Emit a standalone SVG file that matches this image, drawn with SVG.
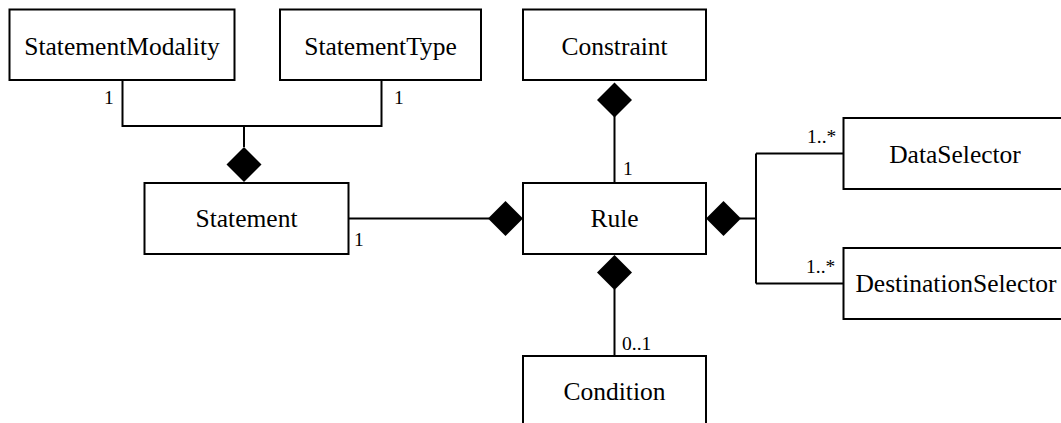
<svg xmlns="http://www.w3.org/2000/svg" width="1061" height="423" viewBox="0 0 1061 423">
<style>
.box{fill:#fff;stroke:#000;stroke-width:2}
.name{font-family:"Liberation Serif","DejaVu Serif",serif;font-size:25.5px;text-anchor:middle;fill:#000}
.lbl{font-family:"Liberation Serif","DejaVu Serif",serif;font-size:19.5px;fill:#000}
.ln{fill:none;stroke:#000;stroke-width:2}
.dia{fill:#000;stroke:none}
</style>
<defs>
<polygon id="d" points="0,-17.5 17.5,0 0,17.5 -17.5,0"/>
</defs>
<rect width="1061" height="423" fill="#fff"/>
<g id="connectors">
<path class="ln" d="M122.5 80 V126 H381.5 V80 M244 126 V147"/>
<use href="#d" class="dia" x="244" y="164.5"/>
<path class="ln" d="M348.5 218.5 H489"/>
<use href="#d" class="dia" x="505.5" y="218.5"/>
<path class="ln" d="M614.5 116 V183"/>
<use href="#d" class="dia" x="614.5" y="100"/>
<path class="ln" d="M740 218.5 H756 M756 153.5 V283.5 M756 153.5 H843.5 M756 283.5 H843.5"/>
<use href="#d" class="dia" x="723.5" y="218.5"/>
<path class="ln" d="M614.5 289 V356"/>
<use href="#d" class="dia" x="614.5" y="272.5"/>
<text class="lbl" x="104" y="103.5">1</text>
<text class="lbl" x="394" y="103.5">1</text>
<text class="lbl" x="354" y="246">1</text>
<text class="lbl" x="623" y="175">1</text>
<text class="lbl" x="807" y="143">1..*</text>
<text class="lbl" x="806" y="273">1..*</text>
<text class="lbl" x="622" y="350">0..1</text>
</g>
<g id="StatementModality"><rect class="box" x="9.5" y="9.5" width="225" height="70.5"/><text class="name" x="122" y="55">StatementModality</text></g>
<g id="StatementType"><rect class="box" x="280" y="9.5" width="201" height="70.5"/><text class="name" x="380.5" y="55">StatementType</text></g>
<g id="Constraint"><rect class="box" x="523" y="9.5" width="183" height="70.5"/><text class="name" x="614.5" y="55">Constraint</text></g>
<g id="Statement"><rect class="box" x="144.5" y="183" width="204" height="71"/><text class="name" x="246.5" y="227">Statement</text></g>
<g id="Rule"><rect class="box" x="523" y="183" width="183" height="71"/><text class="name" x="614.5" y="227">Rule</text></g>
<g id="Condition"><rect class="box" x="523" y="356" width="183" height="72"/><text class="name" x="614.5" y="400">Condition</text></g>
<g id="DataSelector"><rect class="box" x="843.5" y="118" width="224" height="71"/><text class="name" x="955" y="162.5">DataSelector</text></g>
<g id="DestinationSelector"><rect class="box" x="843.5" y="248" width="224" height="71"/><text class="name" x="956" y="292">DestinationSelector</text></g>
</svg>
